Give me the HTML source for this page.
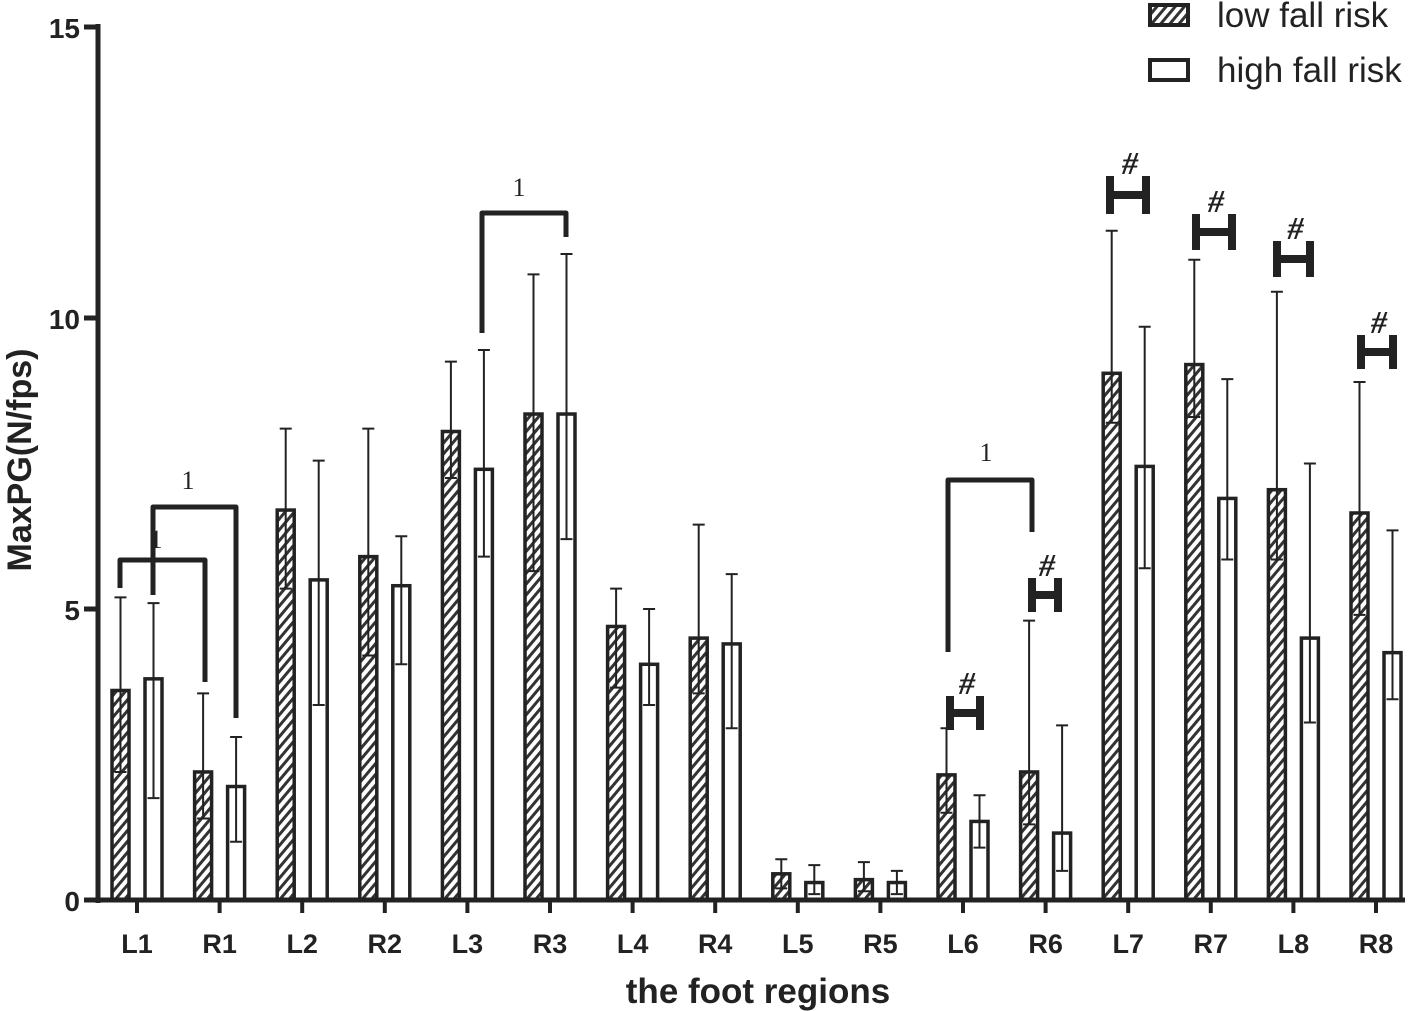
<!DOCTYPE html>
<html><head><meta charset="utf-8"><style>
body{margin:0;background:#fff;}
svg{display:block;font-family:"Liberation Sans",sans-serif;}
</style></head><body>
<svg id="chart" width="1417" height="1011" viewBox="0 0 1417 1011">
<defs>
<pattern id="hatch" patternUnits="userSpaceOnUse" width="7" height="7" patternTransform="rotate(40)">
<rect width="7" height="7" fill="#fff"/><rect width="3" height="7" fill="#333"/>
</pattern>
</defs>
<g id="marks"></g>
<g id="annot"></g>
<line x1="98" y1="24" x2="98" y2="903" stroke="#222" stroke-width="5"/>
<line x1="96" y1="900" x2="1405" y2="900" stroke="#222" stroke-width="5"/>
<text transform="translate(31,460) rotate(-90)" text-anchor="middle" font-size="34" font-weight="bold" fill="#222">MaxPG(N/fps)</text>
<text x="758" y="1003" text-anchor="middle" font-size="35" font-weight="bold" fill="#222">the foot regions</text>
<g>
<rect x="1150" y="5" width="38" height="20" fill="url(#hatch)" stroke="#222" stroke-width="4"/>
<text x="1217" y="27" font-size="35" fill="#222">low fall risk</text>
<rect x="1150" y="60" width="38" height="20" fill="#fff" stroke="#222" stroke-width="4"/>
<text x="1217" y="82" font-size="35" fill="#222">high fall risk</text>
</g>
</svg>
<script>
const categories=["L1","R1","L2","R2","L3","R3","L4","R4","L5","R5","L6","R6","L7","R7","L8","R8"];
const lowValues=[3.6,2.2,6.7,5.9,8.05,8.35,4.7,4.5,0.45,0.35,2.15,2.2,9.05,9.2,7.05,6.65];
const lowErrLo=[2.2,1.4,5.35,4.2,7.25,5.65,3.65,3.55,0.2,0.15,1.5,1.3,8.2,8.3,5.85,4.9];
const lowErrHi=[5.2,3.55,8.1,8.1,9.25,10.75,5.35,6.45,0.7,0.65,2.95,4.8,11.5,11.0,10.45,8.9];
const highValues=[3.8,1.95,5.5,5.4,7.4,8.35,4.05,4.4,0.3,0.3,1.35,1.15,7.45,6.9,4.5,4.25];
const highErrLo=[1.75,1.0,3.35,4.05,5.9,6.2,3.35,2.95,0.1,0.1,0.9,0.5,5.7,5.85,3.05,3.45];
const highErrHi=[5.1,2.8,7.55,6.25,9.45,11.1,5.0,5.6,0.6,0.5,1.8,3.0,9.85,8.95,7.5,6.35];
const yTicks=[0,5,10,15];
const NS="http://www.w3.org/2000/svg";
const y=v=>900-v*58.2;
const xc=i=>137+i*82.6;
function mk(tag,attrs,parent){const e=document.createElementNS(NS,tag);for(const k in attrs)e.setAttribute(k,attrs[k]);parent.appendChild(e);return e;}
const svg=document.getElementById('chart');
const g=document.getElementById('marks');
yTicks.forEach(t=>{
  const l=mk('line',{x1:84,x2:98,y1:y(t),y2:y(t),stroke:'#222','stroke-width':5},svg);
  
  
  const tx=mk('text',{x:80,y:y(t)+11,'text-anchor':'end','font-size':28,'font-weight':'bold',fill:'#222'},svg);
  tx.textContent=t;
  
  
});
function bar(cx,v,lo,hi,fill,name){
  const w=17;
  const r=mk('rect',{x:cx-w/2,y:y(v),width:w,height:900-y(v),fill:fill,stroke:'#222','stroke-width':3.5},g);
  
  
  const e=mk('path',{d:`M${cx},${y(lo)}V${y(hi)}M${cx-6},${y(hi)}H${cx+6}M${cx-6},${y(lo)}H${cx+6}`,stroke:'#222','stroke-width':2,fill:'none'},g);
  
  
}
categories.forEach((c,i)=>{
  const x=xc(i);
  bar(x-16.5,lowValues[i],lowErrLo[i],lowErrHi[i],'url(#hatch)','bar-low-'+c);
  bar(x+16.5,highValues[i],highErrLo[i],highErrHi[i],'#fff','bar-high-'+c);
  const tk=mk('line',{x1:x,x2:x,y1:900,y2:913,stroke:'#222','stroke-width':4},svg);
  
  
  const t=mk('text',{x:x,y:953,'text-anchor':'middle','font-size':27,'font-weight':'bold',fill:'#222'},svg);
  t.textContent=c;
  
  
});
const a=document.getElementById('annot');
function bracket(x1,x2,top,b1,b2,lx,ly){
  const p=mk('path',{d:`M${x1},${b1}V${top}H${x2}V${b2}`,stroke:'#222','stroke-width':5,fill:'none','stroke-linejoin':'round'},a);
  
  
  const t=mk('text',{x:lx,y:ly,'text-anchor':'middle','font-size':26,'font-family':'Liberation Serif, serif',fill:'#222'},a);
  t.textContent='1';
  
  
}
bracket(120,205,560,588,682,156,548);
bracket(153,236,507,595,718,188,489);
bracket(482,566,213,333,237,519,196);
bracket(948,1032,480,652,532,986,461);
function hmark(x1,x2,cy,h){
  const p=mk('path',{d:`M${x1+4},${cy-h/2}V${cy+h/2}M${x2-4},${cy-h/2}V${cy+h/2}M${x1+4},${cy}H${x2-4}`,stroke:'#222','stroke-width':8,fill:'none'},a);
  
  
  const t=mk('text',{x:(x1+x2)/2+2,y:cy-h/2-2,'text-anchor':'middle','font-size':32,'font-style':'italic','font-weight':'bold','font-family':'Liberation Serif, serif',fill:'#222'},a);
  t.textContent='#';
  
  
}
hmark(1106,1150,195,38);
hmark(1192,1236,232,36);
hmark(1273,1314,259,36);
hmark(1357,1397,352,34);
hmark(946,984,713,34);
hmark(1028,1062,595,34);
</script>
</body></html>
